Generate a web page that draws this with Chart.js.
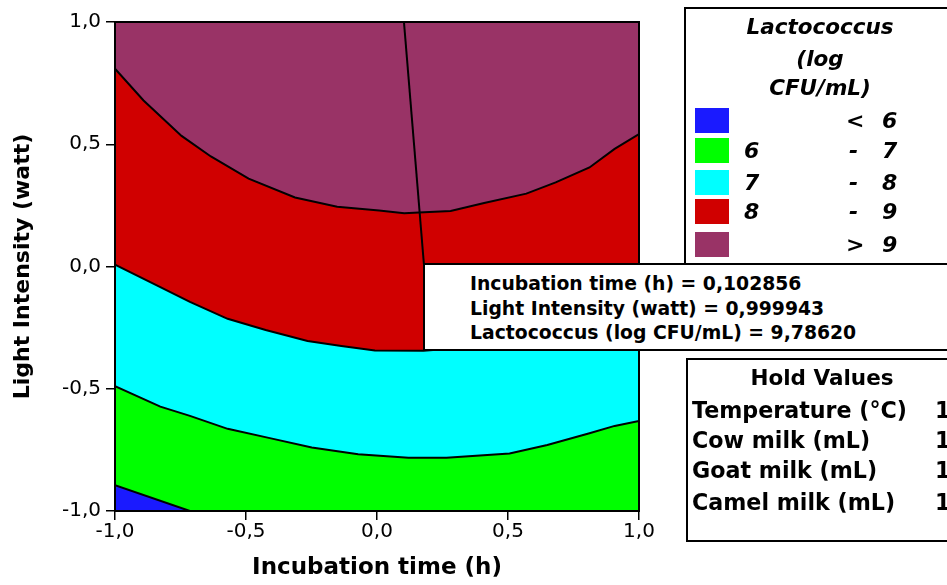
<!DOCTYPE html>
<html>
<head>
<meta charset="utf-8">
<script src="https://cdn.jsdelivr.net/npm/chart.js@4.4.1/dist/chart.umd.min.js"></script>
<style>
  html, body { margin:0; padding:0; background:#fff; overflow:hidden; }
  #wrap { position:relative; width:947px; height:585px; overflow:hidden; font-family:"DejaVu Sans", Verdana, sans-serif; color:#000; }
  canvas { position:absolute; left:0; top:0; }
  .box { position:absolute; background:#fff; border:2px solid #000; box-sizing:border-box; }
  .t { position:absolute; white-space:nowrap; font-weight:bold; }
  .it { font-style:italic; }
  .sw { position:absolute; width:34px; height:25px; }
</style>
</head>
<body>
<div id="wrap">
  <canvas id="c" width="947" height="585"></canvas>
  <div id="overlay"></div>
</div>
<script>
// ---- data ----
const tickValues = [-1, -0.5, 0, 0.5, 1];
const tickLabels = ['-1,0', '-0,5', '0,0', '0,5', '1,0'];

const levelLabels = ['< 6', '6 - 7', '7 - 8', '8 - 9', '> 9'];
const levelColors = ['#1a1aff', '#00ff00', '#00ffff', '#d00000', '#993366'];

// contour at 9 (purple / red)
const c9x = [-1, -0.891, -0.746, -0.634, -0.490, -0.313, -0.152, 0.008, 0.104, 0.160, 0.281, 0.409, 0.570, 0.682, 0.811, 0.907, 1];
const c9y = [0.809, 0.679, 0.534, 0.450, 0.359, 0.282, 0.244, 0.229, 0.218, 0.221, 0.227, 0.260, 0.298, 0.344, 0.405, 0.481, 0.542];
// contour at 8 (red / cyan)
const c8x = [-1, -0.827, -0.714, -0.570, -0.425, -0.265, -0.136, -0.008, 0.177, 0.35, 0.55, 0.75, 0.9, 1];
const c8y = [0.008, -0.084, -0.145, -0.214, -0.260, -0.305, -0.325, -0.344, -0.345, -0.33, -0.30, -0.25, -0.20, -0.15];
// contour at 7 (cyan / green)
const c7x = [-1, -0.827, -0.714, -0.570, -0.409, -0.249, -0.072, 0.120, 0.265, 0.506, 0.650, 0.811, 0.907, 1];
const c7y = [-0.489, -0.573, -0.611, -0.664, -0.702, -0.740, -0.768, -0.782, -0.782, -0.765, -0.730, -0.682, -0.652, -0.632];
// contour at 6 (green / blue)
const c6x = [-1, -0.714];
const c6y = [-0.894, -1];
// plot top edge (region > 9)
const topX = [-1, 1];
const topY = [1, 1];

// selected point and leader line to the annotation box
const leaderX = [0.102856, 0.179];
const leaderY = [0.999943, 0.0102];

const annotLines = [
  'Incubation time (h) = 0,102856',
  'Light Intensity (watt) = 0,999943',
  'Lactococcus (log CFU/mL) = 9,78620'
];
const holdNames = ['Temperature (°C)', 'Cow milk (mL)', 'Goat milk (mL)', 'Camel milk (mL)'];
const holdValues = ['1', '1', '1', '1'];

// ---- build chart ----
const pts = (xs, ys) => xs.map((x, i) => ({ x: x, y: ys[i] }));

function area(xs, ys, color, order, bw) {
  return {
    data: pts(xs, ys),
    borderColor: '#000',
    borderWidth: bw,
    backgroundColor: color,
    fill: 'start',
    pointRadius: 0,
    tension: 0,
    order: order
  };
}

const datasets = [
  area(topX, topY, levelColors[4], 6, 0),
  area(c9x, c9y, levelColors[3], 5, 2),
  area(c8x, c8y, levelColors[2], 4, 2),
  area(c7x, c7y, levelColors[1], 3, 2),
  area(c6x, c6y, levelColors[0], 2, 2),
  { data: pts(leaderX, leaderY), borderColor: '#000', borderWidth: 2, fill: false, pointRadius: 0, order: 1 }
];

const frame = {
  id: 'frame',
  afterDatasetsDraw(chart) {
    const a = chart.chartArea, ctx = chart.ctx;
    ctx.save();
    ctx.strokeStyle = '#000';
    ctx.lineWidth = 2;
    ctx.strokeRect(a.left, a.top, a.right - a.left, a.bottom - a.top);
    ctx.restore();
  }
};

Chart.defaults.font.family = '"DejaVu Sans", Verdana, sans-serif';
Chart.defaults.color = '#000';

new Chart(document.getElementById('c'), {
  type: 'line',
  data: { datasets: datasets },
  plugins: [frame],
  options: {
    responsive: false,
    devicePixelRatio: 1,
    animation: false,
    events: [],
    layout: { padding: { left: 0, right: 308, top: 22, bottom: 0 } },
    plugins: { legend: { display: false }, tooltip: { enabled: false } },
    scales: {
      x: {
        type: 'linear', min: -1, max: 1,
        afterBuildTicks: s => { s.ticks = tickValues.map(v => ({ value: v })); },
        afterFit: s => { s.height = 74; },
        ticks: { autoSkip: false, maxRotation: 0, padding: 0, font: { size: 20 }, color: '#000',
                 callback: (v, i) => tickLabels[i] },
        grid: { display: true, drawOnChartArea: false, drawTicks: true, tickLength: 9, color: '#000', lineWidth: 1.5 },
        border: { display: false },
        title: { display: true, text: 'Incubation time (h)', font: { size: 23, weight: 'bold' }, color: '#000', padding: { top: 0, bottom: 3 } }
      },
      y: {
        type: 'linear', min: -1, max: 1,
        afterBuildTicks: s => { s.ticks = tickValues.map(v => ({ value: v })); },
        afterFit: s => { s.width = 115; },
        ticks: { autoSkip: false, padding: 5, font: { size: 20 }, color: '#000',
                 callback: (v, i) => tickLabels[i] },
        grid: { display: true, drawOnChartArea: false, drawTicks: true, tickLength: 9, color: '#000', lineWidth: 1.5 },
        border: { display: false },
        title: { display: true, text: 'Light Intensity (watt)', font: { size: 22, weight: 'bold' }, color: '#000', padding: { top: 10, bottom: 0 } }
      }
    }
  }
});

// ---- overlay boxes (HTML text) ----
const ov = document.getElementById('overlay');
function add(html) { ov.insertAdjacentHTML('beforeend', html); }
function text(str, left, cy, size, cls, center) {
  const lh = Math.round(size * 1.3);
  const style = center
    ? `left:${left - 200}px;width:400px;text-align:center;`
    : `left:${left}px;`;
  add(`<div class="t ${cls || ''}" style="${style}top:${cy - lh / 2}px;line-height:${lh}px;font-size:${size}px;">${str}</div>`);
}

// legend box
add('<div class="box" style="left:684px;top:7px;width:300px;height:262px;"></div>');
text('Lactococcus', 820, 27, 21.5, 'it', true);
text('(log', 820, 59, 21.5, 'it', true);
text('CFU/mL)', 820, 88, 21.5, 'it', true);
const rowY = [120, 150.5, 182.5, 211.5, 244.5];
levelLabels.forEach((lab, i) => {
  add(`<div class="sw" style="left:695px;top:${rowY[i] - 12.5}px;background:${levelColors[i]};"></div>`);
  const parts = lab.split(' ');
  if (parts.length === 3) {
    text(parts[0], 744, rowY[i], 22, 'it');
    text(parts[1], 849, rowY[i], 22, 'it');
    text(parts[2], 882, rowY[i], 22, 'it');
  } else {
    text(parts[0], 846, rowY[i], 22, 'it');
    text(parts[1], 882, rowY[i], 22, 'it');
  }
});

// annotation box
add('<div class="box" style="left:423px;top:263px;width:600px;height:88px;"></div>');
const annY = [283.5, 308.5, 332.5];
annotLines.forEach((s, i) => text(s, 470, annY[i], 18.8, ''));

// hold values box
add('<div class="box" style="left:686px;top:358px;width:300px;height:184px;"></div>');
text('Hold Values', 822, 378, 21.5, '', true);
const holdY = [410, 440.5, 470.5, 502.5];
holdNames.forEach((s, i) => {
  text(s, 692, holdY[i], 22.2, '');
  text(holdValues[i], 935, holdY[i], 22.2, '');
});
</script>
</body>
</html>
